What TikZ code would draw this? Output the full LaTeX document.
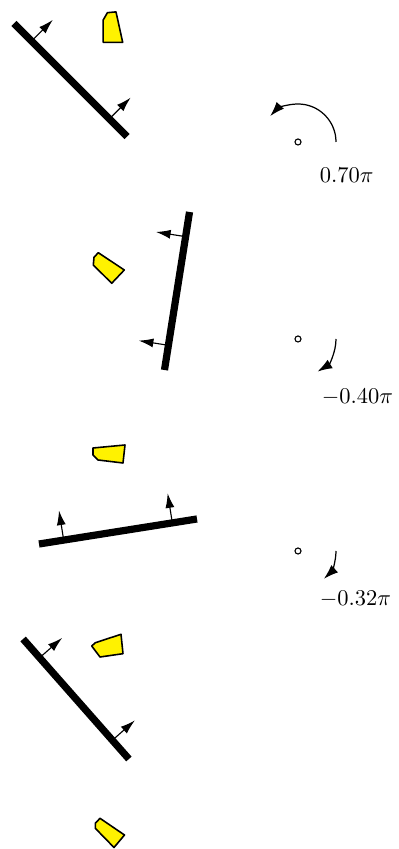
\documentclass[tikz,border=0pt]{standalone}
\usetikzlibrary{arrows.meta}
\begin{document}
\begin{tikzpicture}[x=0.4444pt,y=0.4444pt,
  bar/.style={line width=3.2pt},
  normalarrow/.style={line width=0.5pt,-{Latex[length=6.5pt,width=4pt]}},
  rotarrow/.style={line width=0.55pt,-{Latex[length=6.5pt,width=4.4pt]}},
  body/.style={draw=black,fill=yellow,line width=0.7pt,line join=round},
  pivot/.style={draw=black,line width=0.5pt},
  anglelabel/.style={anchor=west,inner sep=0pt}]
\useasboundingbox (0,0) rectangle (398,849);

% ---------- panel 1 ----------
\begin{scope}[shift={(70.5,769)},rotate=-45]
  \coordinate (b1a) at (-80,0); \coordinate (b1b) at (80,0);
  \coordinate (n1a) at (-55,0); \coordinate (t1a) at (-55,30);
  \coordinate (n1b) at (55,0);  \coordinate (t1b) at (55,30);
  \draw[normalarrow] (n1a) -- (t1a);
  \draw[normalarrow] (n1b) -- (t1b);
  \draw[bar] (b1a) -- (b1b);
\end{scope}
\draw[body] (103.2,829) -- (107.4,836.3) -- (116,837.1) -- (122.7,806.6) -- (103.2,806.6) -- cycle;
\coordinate (p1) at (298,707);
\draw[pivot] (p1) circle (3);
\draw[rotarrow] ([xshift=38*0.4444pt]p1) arc[start angle=0,end angle=137,radius=38];
\node[anglelabel] (l1) at (319.5,674) {$0.70\pi$};

% ---------- panel 2 ----------
\begin{scope}[shift={(177,558)},rotate=81]
  \coordinate (b2a) at (-80,0); \coordinate (b2b) at (80,0);
  \coordinate (n2a) at (-55,0); \coordinate (t2a) at (-55,30);
  \coordinate (n2b) at (55,0);  \coordinate (t2b) at (55,30);
  \draw[normalarrow] (n2a) -- (t2a);
  \draw[normalarrow] (n2b) -- (t2b);
  \draw[bar] (b2a) -- (b2b);
\end{scope}
\draw[body] (94,591.7) -- (98.3,596.3) -- (124.3,579) -- (111.7,565.7) -- (93.3,584) -- cycle;
\coordinate (p2) at (298,510);
\draw[pivot] (p2) circle (3);
\draw[rotarrow] ([xshift=38*0.4444pt]p2) arc[start angle=0,end angle=-59,radius=38];
\node[anglelabel] (l2) at (321.5,451.5) {$-0.40\pi$};

% ---------- panel 3 ----------
\begin{scope}[shift={(118,317.5)},rotate=9]
  \coordinate (b3a) at (-80,0); \coordinate (b3b) at (80,0);
  \coordinate (n3a) at (-55,0); \coordinate (t3a) at (-55,30);
  \coordinate (n3b) at (55,0);  \coordinate (t3b) at (55,30);
  \draw[normalarrow] (n3a) -- (t3a);
  \draw[normalarrow] (n3b) -- (t3b);
  \draw[bar] (b3a) -- (b3b);
\end{scope}
\draw[body] (93,401) -- (125,404) -- (123,386) -- (98,389) -- (93,394) -- cycle;
\coordinate (p3) at (298,298);
\draw[pivot] (p3) circle (3);
\draw[rotarrow] ([xshift=38*0.4444pt]p3) arc[start angle=0,end angle=-47,radius=38];
\node[anglelabel] (l3) at (319.5,250) {$-0.32\pi$};

% ---------- panel 4 ----------
\begin{scope}[shift={(76,150)},rotate=-48.6]
  \coordinate (b4a) at (-80,0); \coordinate (b4b) at (80,0);
  \coordinate (n4a) at (-55,0); \coordinate (t4a) at (-55,30);
  \coordinate (n4b) at (55,0);  \coordinate (t4b) at (55,30);
  \draw[normalarrow] (n4a) -- (t4a);
  \draw[normalarrow] (n4b) -- (t4b);
  \draw[bar] (b4a) -- (b4b);
\end{scope}
\draw[body] (91.7,203) -- (95.4,206.3) -- (121,214.7) -- (123,195.3) -- (100,192) -- cycle;

% ---------- panel 5 ----------
\draw[body] (95.3,25.7) -- (100,30.7) -- (124.5,14) -- (114,1.5) -- (95.3,20.7) -- cycle;
\end{tikzpicture}
\end{document}
